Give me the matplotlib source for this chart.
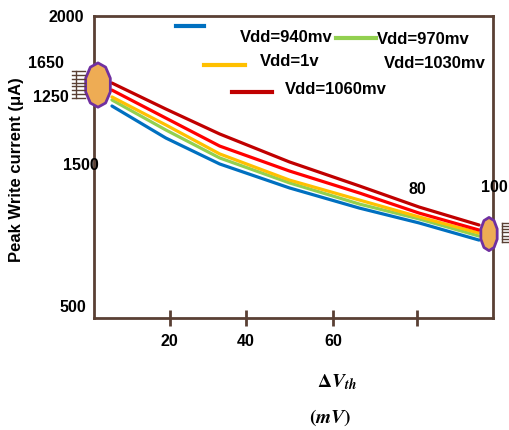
import numpy as np
import matplotlib
matplotlib.use('Agg')
import matplotlib.pyplot as plt
from matplotlib.lines import Line2D
from matplotlib.patches import Polygon

plt.rcParams['font.family'] = ['Liberation Sans', 'DejaVu Sans']
plt.rcParams['font.weight'] = 'bold'
plt.rcParams['mathtext.fontset'] = 'stix'

# data
dvth = [4.5, 18, 31.5, 49, 66.5, 81.5, 96.5]
i_940 = [1553, 1394, 1265, 1146, 1046, 972, 887]
i_970 = [1583, 1434, 1295, 1171, 1066, 992, 907]
i_1000 = [1598, 1459, 1315, 1185, 1086, 1002, 922]
i_1030 = [1632, 1493, 1354, 1230, 1121, 1021, 937]
i_1060 = [1667, 1538, 1414, 1275, 1156, 1051, 962]
series_names = ['Vdd=940mv', 'Vdd=970mv', 'Vdd=1v', 'Vdd=1030mv', 'Vdd=1060mv']
colors = ['#0070c0', '#92d050', '#ffc000', '#ff0000', '#c00000']

xtick_pos = [19, 38, 60, 81]
xtick_labels = ['20', '40', '60', '']
# odd y "tick" labels as they appear
ylabel_txt = ['2000', '1650', '1250', '1500', '500']
ylabel_px = [(66, 18), (46, 64), (51, 97), (81, 165), (73, 308)]

W, H = 509, 430
brown = '#5a4034'


def px(x, y):
    return x / W, 1 - y / H


fig = plt.figure(figsize=(W / 100, H / 100), dpi=100)
ax = fig.add_axes([94 / W, 1 - 318 / H, (493 - 94) / W, (318 - 16) / H])
ax.set_xlim(0, 100)
ax.set_ylim(500, 2000)

for ys, c in zip([i_940, i_970, i_1000, i_1030, i_1060], colors):
    ax.plot(dvth, ys, color=c, lw=2.3, solid_capstyle='round',
            solid_joinstyle='round', zorder=3)

for s in ax.spines.values():
    s.set_color(brown)
    s.set_linewidth(2)
ax.set_xticks(xtick_pos)
ax.set_xticklabels(xtick_labels, fontsize=11.5, fontweight='bold')
ax.tick_params(axis='x', direction='inout', length=11, width=2, color=brown, pad=6)
ax.set_yticks([])


# the two blobs at both ends of the curves
def blob(cx, cy, w, h):
    t = np.linspace(0, 2 * np.pi, 11)[:-1] + np.pi / 10
    pts = np.c_[cx + w / 2 * np.cos(t), cy + h / 2 * np.sin(t)]
    ax.add_patch(Polygon(pts, closed=True, fc='#eeac54', ec='#7030a0', lw=2,
                         joinstyle='round', zorder=5, clip_on=False))


blob(1, 1657, 6.5, 220)
blob(99, 917, 4.3, 165)


# little comb marks next to the blobs
def comb(xv, x0, x1, y0, y1, n):
    fig.add_artist(Line2D(*zip(px(xv, y0), px(xv, y1)), color=brown, lw=1))
    for y in np.linspace(y0, y1, n):
        fig.add_artist(Line2D(*zip(px(x0, y), px(x1, y)), color=brown, lw=1))


comb(76, 72, 85, 71, 98, 8)
comb(502, 502, 509, 223, 242, 7)

# free-standing labels
for t, (x, y) in zip(ylabel_txt, ylabel_px):
    fig.text(*px(x, y), t, ha='center', va='center', fontsize=11.5, fontweight='bold')
fig.text(*px(417, 190), '80', ha='center', va='center', fontsize=11.5, fontweight='bold')
fig.text(*px(494, 188), '100', ha='center', va='center', fontsize=11.5, fontweight='bold')

fig.text(*px(17, 170), 'Peak Write current (μA)', rotation=90, ha='center', va='center',
         fontsize=12, fontweight='bold')
fig.text(*px(337, 382), r'$\mathbf{\Delta}\mathbfit{V_{th}}$', ha='center', va='center', fontsize=14)
fig.text(*px(330, 418), r'$\mathbf{(}\mathbfit{mV}\mathbf{)}$', ha='center', va='center', fontsize=14)

# hand placed legend
leg_lines = [((176, 204), 26, colors[0]), ((336, 376), 38, colors[1]),
             ((204, 245), 65, colors[2]), ((232, 272), 92, colors[4])]
for (x0, x1), y, c in leg_lines:
    fig.add_artist(Line2D(*zip(px(x0, y), px(x1, y)), color=c, lw=3))
leg_text_px = [(240, 37), (377, 40), (260, 61), (384, 63), (285, 90)]
for t, (x, y) in zip(series_names, leg_text_px):
    fig.text(*px(x, y), t, ha='left', va='center', fontsize=12, fontweight='bold')

fig.savefig('out.png', dpi=100)
